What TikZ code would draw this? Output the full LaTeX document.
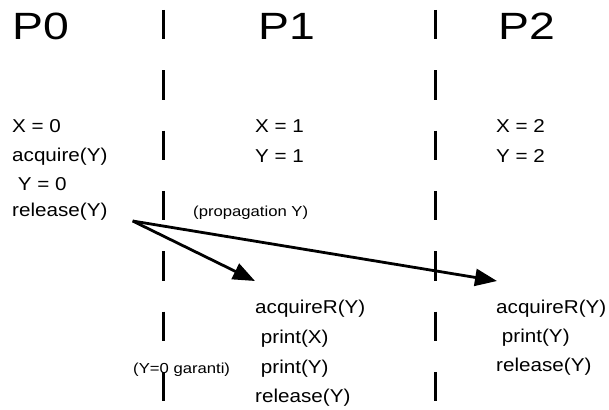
\documentclass[tikz,border=0pt]{standalone}
\usepackage{fontspec}
\setmainfont{Liberation Sans}
\newfontfamily\titleFont[FakeStretch=1.22]{Liberation Sans}
\newfontfamily\codeFont[FakeStretch=1.11]{Liberation Sans}
\newfontfamily\noteFont[FakeStretch=1.15]{Liberation Sans}
\usepackage{tikz}
\usetikzlibrary{arrows.meta,positioning,calc}
\tikzset{%
  procTitle/.style={%
    font=\titleFont\fontsize{38}{38}\selectfont,
    anchor=base west,
    inner sep=0pt
  },
  codeLine/.style={%
    font=\codeFont\fontsize{18.6}{18.6}\selectfont,
    anchor=base west,
    inner sep=0pt
  },
  noteLabel/.style={%
    font=\noteFont\fontsize{14.5}{14.5}\selectfont,
    anchor=base west,
    inner sep=0pt
  },
  sepLine/.style={%
    line width=2.5pt,
    dash pattern=on 29.5pt off 30.8pt
  },
  arrowLine/.style={%
    -{Triangle[length=22pt,width=17pt]},
    line width=2.8pt
  }
}

\begin{document}
\begin{tikzpicture}[x=1pt,y=-1pt]
  \useasboundingbox (0,0) rectangle (609,409);

  % process titles
  \node[procTitle] (p0) at (12,40) {P0};
  \node[procTitle] (p1) at (258,40) {P1};
  \node[procTitle] (p2) at (498,40) {P2};

  % separators
  \coordinate (sepA) at (163.5,10);
  \coordinate (sepB) at (435.5,10);
  \draw[sepLine] (sepA) -- ++(0,392);
  \draw[sepLine] (sepB) -- ++(0,392);

  % P0
  \node[codeLine] (x0) at (12,132) {X = 0};
  \node[codeLine] (acq0) at (12,161) {acquire(Y)};
  \node[codeLine] (y0) at (12,190) {\ Y = 0};
  \node[codeLine] (rel0) at (12,216) {release(Y)};

  % P1
  \node[codeLine] (x1) at (255,132) {X = 1};
  \node[codeLine] (y1) at (255,162) {Y = 1};
  \node[codeLine] (acqR1) at (255,313) {acquireR(Y)};
  \node[codeLine] (printX1) at (255,343) {\ print(X)};
  \node[codeLine] (printY1) at (255,373) {\ print(Y)};
  \node[codeLine] (rel1) at (255,402) {release(Y)};

  % P2
  \node[codeLine] (x2) at (496,132) {X = 2};
  \node[codeLine] (y2) at (496,162) {Y = 2};
  \node[codeLine] (acqR2) at (496,313) {acquireR(Y)};
  \node[codeLine] (printY2) at (496,342) {\ print(Y)};
  \node[codeLine] (rel2) at (496,371) {release(Y)};

  % notes
  \node[noteLabel] (prop) at (193,216) {(propagation Y)};
  \node[noteLabel] (garanti) at (133,373) {(Y=0 garanti)};

  % propagation arrows
  \coordinate (relOut) at ($(rel0.base east)+(25,5)$);
  \coordinate (inR1) at ($(acqR1.base west)+(0,-32)$);
  \coordinate (inR2) at ($(acqR2.base west)+(1,-32)$);
  \draw[arrowLine] (relOut) -- (inR1);
  \draw[arrowLine] (relOut) -- (inR2);
\end{tikzpicture}
\end{document}
